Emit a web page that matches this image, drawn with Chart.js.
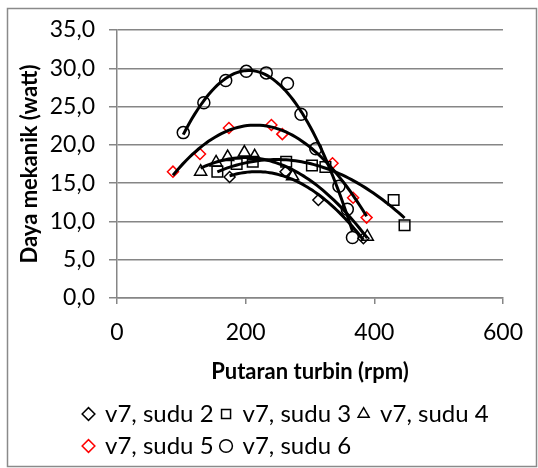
<!DOCTYPE html>
<html>
<head>
<meta charset="utf-8">
<script src="https://cdn.jsdelivr.net/npm/chart.js@4.4.0/dist/chart.umd.min.js"></script>
<style>
  html, body { margin: 0; padding: 0; background: #fff; }
  #wrap { width: 538px; height: 468px; position: relative; }
</style>
</head>
<body>
<div id="wrap"><canvas id="myChart"></canvas></div>
<script>
  // data
  const seriesNames = ['v7, sudu 2', 'v7, sudu 3', 'v7, sudu 4', 'v7, sudu 5', 'v7, sudu 6'];

  const sudu2Rpm  = [175, 262, 313, 383];
  const sudu2Watt = [15.8, 16.5, 12.8, 7.8];

  const sudu3Rpm  = [156, 186, 211, 263, 303, 324, 430, 447];
  const sudu3Watt = [16.5, 17.5, 17.8, 17.8, 17.3, 17.1, 12.8, 9.5];

  const sudu4Rpm  = [130, 154, 172, 198, 214, 273, 389];
  const sudu4Watt = [16.5, 17.7, 18.4, 19.0, 18.5, 15.9, 8.0];

  const sudu5Rpm  = [87, 129, 174, 240, 257, 335, 367, 388];
  const sudu5Watt = [16.5, 18.8, 22.2, 22.6, 21.4, 17.6, 13.1, 10.5];

  const sudu6Rpm  = [103, 135, 169, 201, 232, 265, 286, 309, 345, 358, 366];
  const sudu6Watt = [21.6, 25.5, 28.4, 29.6, 29.4, 28.0, 24.0, 19.5, 14.6, 11.6, 7.9];

  const yTickLabels = ['0,0', '5,0', '10,0', '15,0', '20,0', '25,0', '30,0', '35,0'];
  const xTickLabels = ['0', '200', '400', '600'];

  Chart.defaults.font.family = 'Lato';
  Chart.defaults.color = '#000';

  function toPoints(xs, ys) {
    return xs.map((x, i) => ({x: x, y: ys[i]}));
  }

  // 2nd order least squares trendline, like the spreadsheet does
  function polyTrend(xs, ys) {
    let s = [0, 0, 0, 0, 0], t = [0, 0, 0];
    for (let i = 0; i < xs.length; i++) {
      let p = 1;
      for (let k = 0; k < 5; k++) { s[k] += p; if (k < 3) t[k] += p * ys[i]; p *= xs[i]; }
    }
    const m = [[s[0], s[1], s[2], t[0]], [s[1], s[2], s[3], t[1]], [s[2], s[3], s[4], t[2]]];
    for (let c = 0; c < 3; c++) {
      for (let r = c + 1; r < 3; r++) {
        const f = m[r][c] / m[c][c];
        for (let k = c; k < 4; k++) m[r][k] -= f * m[c][k];
      }
    }
    const b = [0, 0, 0];
    for (let r = 2; r >= 0; r--) {
      let v = m[r][3];
      for (let k = r + 1; k < 3; k++) v -= m[r][k] * b[k];
      b[r] = v / m[r][r];
    }
    const lo = Math.min(...xs), hi = Math.max(...xs);
    const pts = [];
    for (let i = 0; i <= 60; i++) {
      const x = lo + (hi - lo) * i / 60;
      pts.push({x: x, y: b[0] + b[1] * x + b[2] * x * x});
    }
    return pts;
  }

  const allRpm  = [sudu2Rpm, sudu3Rpm, sudu4Rpm, sudu5Rpm, sudu6Rpm];
  const allWatt = [sudu2Watt, sudu3Watt, sudu4Watt, sudu5Watt, sudu6Watt];
  const markers = ['rectRot', 'rect', 'triangle', 'rectRot', 'circle'];
  const markerSize = [5.5, 7.5, 7, 5.5, 6];
  const markerColor = ['#000', '#000', '#000', '#ff0000', '#000'];

  const datasets = [];
  seriesNames.forEach((name, i) => {
    datasets.push({
      label: name,
      data: toPoints(allRpm[i], allWatt[i]),
      pointStyle: markers[i],
      pointRadius: markerSize[i],
      pointHoverRadius: markerSize[i],
      borderColor: markerColor[i],
      backgroundColor: 'rgba(0,0,0,0)',
      borderWidth: 1.5,
      showLine: false,
      order: 1
    });
  });
  seriesNames.forEach((name, i) => {
    datasets.push({
      label: 'trend',
      data: polyTrend(allRpm[i], allWatt[i]),
      showLine: true,
      pointRadius: 0,
      borderColor: '#000',
      borderWidth: 3,
      tension: 0,
      order: 0
    });
  });

  const frame = {
    id: 'frame',
    // legend sits under the plot, left aligned, 3 items per row
    afterLayout(chart) {
      const lg = chart.legend;
      lg.maxWidth = 428;
      lg.fit();
      lg.left = 76;
      lg.right = 504;
      lg.width = 428;
    },
    afterDraw(chart) {
      const c = chart.ctx;
      c.save();
      c.strokeStyle = '#8a8a8a';
      c.lineWidth = 1.5;
      c.strokeRect(7.5, 8.5, 529, 458);
      c.restore();
    }
  };

  const ctx = document.getElementById('myChart');
  new Chart(ctx, {
    type: 'scatter',
    data: { datasets: datasets },
    plugins: [frame],
    options: {
      responsive: true,
      maintainAspectRatio: false,
      animation: false,
      layout: { padding: { left: 0, right: 34, top: 30, bottom: 0 } },
      plugins: {
        tooltip: { enabled: false },
        legend: {
          position: 'bottom',
          align: 'start',
          labels: {
            usePointStyle: true,
            boxWidth: 9,
            boxHeight: 9,
            padding: 8,
            font: { size: 24 },
            filter: (item) => item.text !== 'trend'
          }
        }
      },
      scales: {
        x: {
          type: 'linear',
          min: 0,
          max: 600,
          afterFit: (scale) => { scale.height = 96; },
          ticks: {
            stepSize: 200,
            padding: 15,
            font: { size: 23 },
            callback: (v, i) => xTickLabels[i]
          },
          grid: { drawOnChartArea: false, drawTicks: true, tickLength: 6, color: '#868686', lineWidth: 1.5 },
          border: { color: '#868686', width: 1.5 },
          title: {
            display: true,
            text: 'Putaran turbin (rpm)',
            font: { size: 22, weight: 'bold' },
            padding: { top: 0, bottom: 9 }
          }
        },
        y: {
          min: 0,
          max: 35,
          afterFit: (scale) => { scale.width = 117; },
          ticks: {
            stepSize: 5,
            padding: 14,
            font: { size: 23 },
            callback: (v, i) => yTickLabels[i]
          },
          grid: { color: '#868686', lineWidth: 1.5, tickLength: 8 },
          border: { color: '#868686', width: 1.5 },
          title: {
            display: true,
            text: 'Daya mekanik (watt)',
            font: { size: 22, weight: 'bold' },
            padding: { top: 17, bottom: 0 }
          }
        }
      }
    }
  });
</script>
</body>
</html>
